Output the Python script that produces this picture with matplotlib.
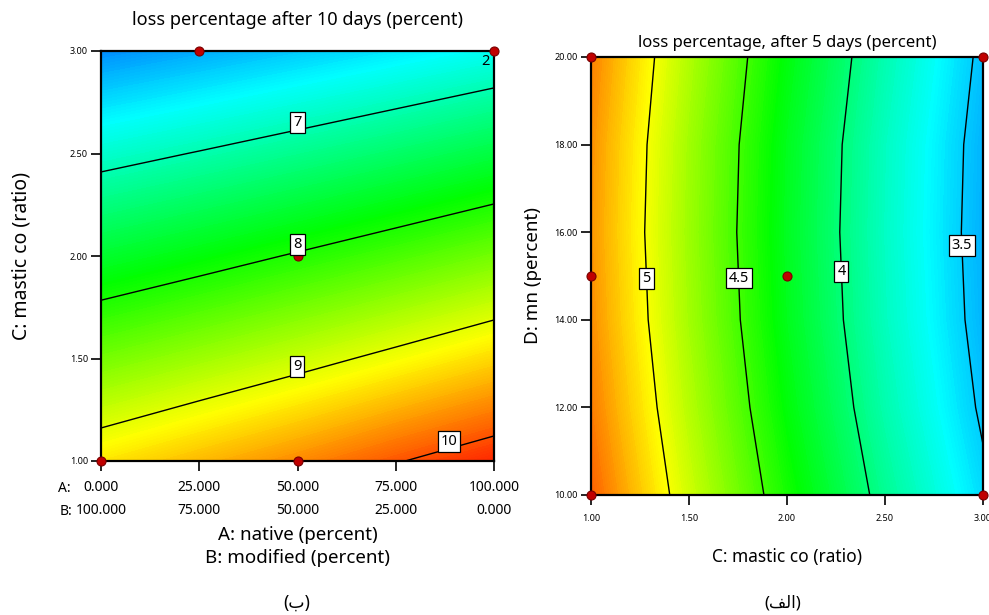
import numpy as np
import matplotlib
matplotlib.use("Agg")
import matplotlib.pyplot as plt
from matplotlib.colors import LinearSegmentedColormap

plt.rcParams['font.family'] = ['Noto Sans', 'DejaVu Sans']

# ── DATA ─────────────────────────────────────────────
# (b) loss percentage after 10 days, A: native / B: modified vs C: mastic co
a_native = [0, 25, 50, 75, 100]
c_ratio = [1.0, 1.5, 2.0, 2.5, 3.0]
loss_10d = [            # rows follow c_ratio, columns follow a_native
    [9.26, 9.49, 9.72, 9.977, 10.216],
    [8.453, 8.656, 8.87, 9.096, 9.332],
    [7.656, 7.839, 8.033, 8.235, 8.449],
    [6.856, 7.02, 7.193, 7.375, 7.565],
    [6.056, 6.20, 6.353, 6.513, 6.682],
]
levels_10d = [7, 8, 9, 10]
design_a = [25, 100, 50, 0, 50]
design_c = [3.0, 3.0, 2.0, 1.0, 1.0]
a_ticks = [0, 25, 50, 75, 100]
a_labels = ["0.000", "25.000", "50.000", "75.000", "100.000"]
b_labels = ["100.000", "75.000", "50.000", "25.000", "0.000"]
c_ticks = [1.0, 1.5, 2.0, 2.5, 3.0]

# (الف) loss percentage after 5 days, C: mastic co vs D: mn
c_ratio2 = [1.0, 1.5, 2.0, 2.5, 3.0]
d_mn = [10, 12, 14, 16, 18, 20]
loss_5d = [             # rows follow d_mn, columns follow c_ratio2
    [5.45, 4.89, 4.38, 3.93, 3.54],
    [5.375, 4.819, 4.306, 3.857, 3.471],
    [5.325, 4.768, 4.256, 3.811, 3.43],
    [5.304, 4.749, 4.238, 3.796, 3.416],
    [5.318, 4.762, 4.25, 3.806, 3.425],
    [5.361, 4.805, 4.296, 3.849, 3.461],
]
levels_5d = [3.5, 4, 4.5, 5]
design_c2 = [1.0, 3.0, 1.0, 2.0, 1.0, 3.0]
design_d = [20, 20, 15, 15, 10, 10]
c2_ticks = [1.0, 1.5, 2.0, 2.5, 3.0]
d_ticks = [10, 12, 14, 16, 18, 20]

# label anchor hints for the contour labels
lab_pos_10d = [(50, 2.615), (50, 2.02), (50, 1.42), (88.5, 1.06)]
lab_pos_5d = [(2.88, 15.7), (2.25, 15.1), (1.735, 14.95), (1.27, 14.95)]

# ── STYLE ────────────────────────────────────────────
de_cmap = LinearSegmentedColormap.from_list(
    "de", ["#0000ff", "#00ffff", "#00ff00", "#ffff00", "#ff0000"])
DOT = dict(marker="o", ls="none", ms=6.5, mfc="#c00000", mec="#780000",
           mew=0.8, clip_on=False, zorder=6)
BOX = dict(boxstyle="square,pad=0.2", fc="white", ec="black", lw=0.9)


def surface(ax, x, y, z, vmin, vmax, levels, lab_pos, va):
    X, Y = np.meshgrid(x, y)
    Z = np.array(z)
    cf = ax.contourf(X, Y, Z, levels=np.linspace(vmin, vmax, 220),
                     cmap=de_cmap, vmin=vmin, vmax=vmax)
    cf.set_edgecolor("face")
    cl = ax.contour(X, Y, Z, levels=levels, colors="black", linewidths=1.0)
    texts = ax.clabel(cl, levels, inline=False, fmt="%g", fontsize=10.5,
                      manual=lab_pos)
    for t in texts:
        t.set_rotation(0)
        t.set_va(va)
        t.set_bbox(BOX)
        t.set_zorder(7)
    for s in ax.spines.values():
        s.set_linewidth(1.6)
    ax.tick_params(direction="out", length=7.5, width=1.2,
                   top=False, right=False)


fig = plt.figure(figsize=(9.89, 6.15), dpi=100)

# ── (b) left panel ───────────────────────────────────
ax1 = fig.add_axes([101 / 989, 154 / 615, 393 / 989, 410 / 615])
surface(ax1, a_native, c_ratio, loss_10d, 5.36, 10.42, levels_10d,
        lab_pos_10d, "bottom")
ax1.plot(design_a, design_c, **DOT)
ax1.annotate("2", xy=(100, 3), xytext=(-6, -7.5), textcoords="offset points",
             ha="center", va="center", fontsize=10.5)
ax1.set_xlim(0, 100)
ax1.set_ylim(1, 3)
ax1.set_xticks(a_ticks)
ax1.set_xticklabels([f"{a}\n{b}" for a, b in zip(a_labels, b_labels)],
                    fontsize=10, linespacing=1.75)
ax1.set_yticks(c_ticks)
ax1.set_yticklabels([f"{v:.2f}" for v in c_ticks], fontsize=6.5)
ax1.tick_params(axis="x", pad=6)
ax1.tick_params(axis="y", pad=2)
ax1.text(-0.11, -0.066, "A:", transform=ax1.transAxes, fontsize=10,
         ha="left", va="center")
ax1.text(-0.105, -0.122, "B:", transform=ax1.transAxes, fontsize=10,
         ha="left", va="center")
ax1.set_xlabel("A: native (percent)\nB: modified (percent)", fontsize=13.5,
               linespacing=1.4)
ax1.xaxis.set_label_coords(0.5, -0.158)
ax1.set_ylabel("C: mastic co (ratio)", fontsize=14)
ax1.yaxis.set_label_coords(-0.177, 0.5)
ax1.text(0.5, 1 + 31 / 410, "loss percentage after 10 days (percent)",
         transform=ax1.transAxes, ha="center", va="center", fontsize=13)

# ── (الف) right panel ────────────────────────────────
ax2 = fig.add_axes([591 / 989, 120 / 615, 392 / 989, 438 / 615])
surface(ax2, c_ratio2, d_mn, loss_5d, 2.944, 5.72, levels_5d,
        lab_pos_5d, "center")
ax2.plot(design_c2, design_d, **DOT)
ax2.set_xlim(1, 3)
ax2.set_ylim(10, 20)
ax2.set_xticks(c2_ticks)
ax2.set_xticklabels([f"{v:.2f}" for v in c2_ticks], fontsize=6.5)
ax2.set_yticks(d_ticks)
ax2.set_yticklabels([f"{v:.2f}" for v in d_ticks], fontsize=6.5)
ax2.tick_params(axis="x", pad=6)
ax2.tick_params(axis="y", pad=2)
ax2.set_xlabel("C: mastic co (ratio)", fontsize=12.5)
ax2.xaxis.set_label_coords(0.5, -0.122)
ax2.set_ylabel("D: mn (percent)", fontsize=13.5)
ax2.yaxis.set_label_coords(-0.125, 0.5)
ax2.text(0.5, 1 + 14 / 438, "loss percentage, after 5 days (percent)",
         transform=ax2.transAxes, ha="center", va="center", fontsize=12)

# panel captions (Arabic, visual order with presentation forms)
fig.text(297 / 989, 1 - 603 / 615, "(\ufe8f)", ha="center", va="center",
         fontsize=12.5)
fig.text(783 / 989, 1 - 603 / 615, "(\ufed2\ufedf\ufe8d)", ha="center",
         va="center", fontsize=12)

plt.savefig("out.png", dpi=100)
